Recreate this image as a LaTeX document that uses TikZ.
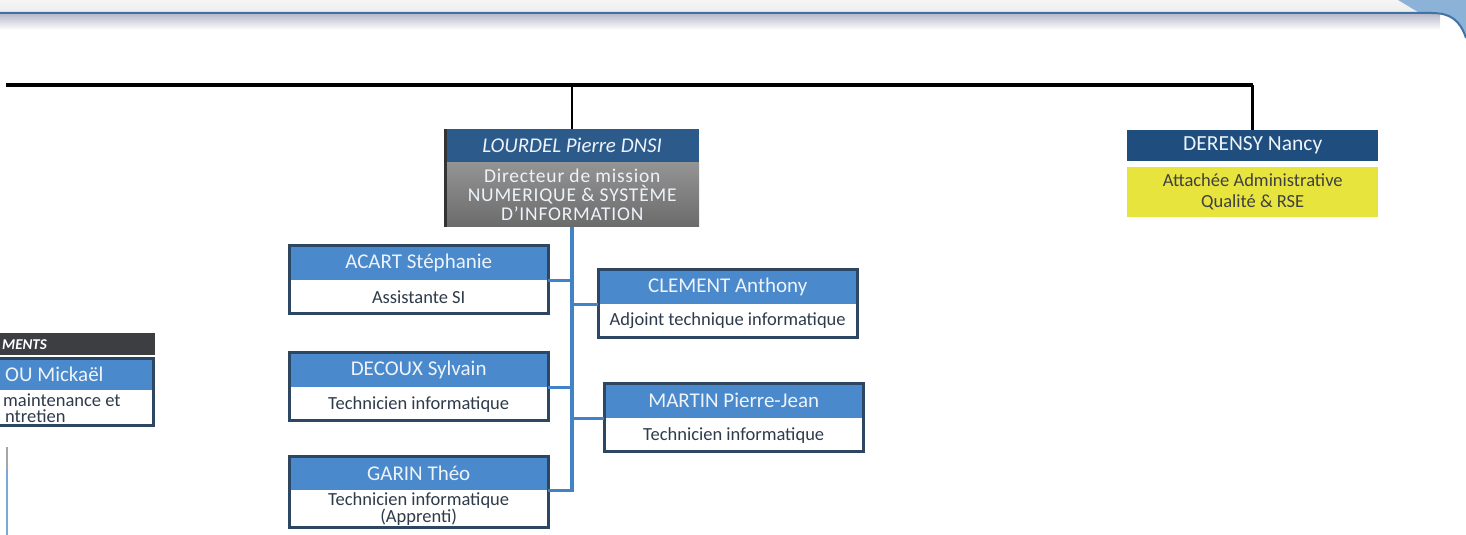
\documentclass[tikz,border=0pt]{standalone}
\usepackage{fontspec}
\setmainfont{Carlito}
\usetikzlibrary{positioning,calc}
\definecolor{hdrblue}{HTML}{4A89CC}
\definecolor{hdrtext}{HTML}{EEF3F9}
\definecolor{bodytext}{HTML}{2E3B4A}
\definecolor{framecol}{HTML}{2D4762}
\definecolor{trunkblue}{HTML}{4183C6}
\definecolor{chiefblue}{HTML}{2C5B8B}
\definecolor{navyblue}{HTML}{1F4E7E}
\definecolor{qualyellow}{HTML}{E8E43E}
\definecolor{darkcap}{HTML}{3C3E41}
\definecolor{cornerblue}{HTML}{8DB2D8}
\definecolor{bandline}{HTML}{3E73A6}

\begin{document}
\begin{tikzpicture}[x=1pt,y=-1pt]
\tikzset{hdr/.style={fill=hdrblue,text=hdrtext,minimum width=259pt,minimum height=35pt,inner sep=0pt,anchor=north west,font=\fontsize{21}{22}\selectfont},
body/.style={fill=white,text=bodytext,minimum width=259pt,minimum height=33pt,inner sep=0pt,align=center,font=\fontsize{18.5}{19}\selectfont},
frame/.style={draw=framecol,line width=3pt},
link/.style={draw=trunkblue,line width=3.5pt},
topline/.style={draw=black,line width=2.5pt}}
\useasboundingbox (0,0) rectangle (1466,535);
\clip (0,0) rectangle (1466,535);

% bandeau du haut
\fill[top color=white!92!gray,bottom color=white!86!gray] (0,0) rectangle (1466,12);
\fill[top color=white!88!blue!60!gray,bottom color=white] (0,14) rectangle (1440,30);
\fill[cornerblue] (1398,0) -- (1418,12) -- (1432,12) .. controls (1450,12) and (1460,20) .. (1466,38) -- (1466,0) -- cycle;
\draw[bandline,line width=2pt] (0,13) -- (1432,13) .. controls (1450,13) and (1460,20) .. (1466,38);

% direction
\node[hdr,fill=chiefblue,minimum width=254pt,minimum height=33pt,font=\fontsize{21}{22}\selectfont\itshape] (lourdel) at (445,129) {LOURDEL Pierre DNSI};
\node[body,below=0pt of lourdel,minimum width=254pt,minimum height=64pt,top color=black!42,bottom color=black!58,text=hdrtext,font=\fontsize{19.5}{19}\selectfont\addfontfeature{LetterSpace=4}] (lourdelb) {Directeur de mission\\NUMERIQUE \& SYSTÈME\\D'INFORMATION};
\draw[line width=3pt,black!80] (lourdel.north west) -- (lourdelb.south west);

\node[hdr,fill=navyblue,minimum width=251pt,minimum height=31pt,font=\fontsize{21.5}{22}\selectfont] (derensy) at (1127,130) {DERENSY Nancy};
\node[body,fill=qualyellow,text=black!75,minimum width=251pt,minimum height=50pt,anchor=north west,font=\fontsize{18.5}{21}\selectfont] (derensyb) at (1127,167) {Attachée Administrative\\Qualité \& RSE};

\coordinate (topleft) at (6,85);
\draw[topline,line width=3.5pt] (topleft) -- (topleft -| derensy.north);
\draw[topline] (derensy.north |- topleft) -- (derensy.north);
\draw[topline] (lourdel.north |- topleft) -- (lourdel.north);

% service SI
\node[hdr] (acart) at (289,245) {ACART Stéphanie};
\node[body,below=0pt of acart] (acartb) {Assistante SI};
\node[hdr] (clement) at (598,269) {CLEMENT Anthony};
\node[body,below=0pt of clement] (clementb) {Adjoint technique informatique};
\node[hdr] (decoux) at (289,352) {DECOUX Sylvain};
\node[body,below=0pt of decoux] (decouxb) {Technicien informatique};
\node[hdr] (martin) at (604,383) {MARTIN Pierre-Jean};
\node[body,below=0pt of martin] (martinb) {Technicien informatique};
\node[hdr,minimum height=34pt] (garin) at (289,456) {GARIN Théo};
\node[body,below=0pt of garin,minimum height=37pt,font=\fontsize{18.5}{17}\selectfont] (garinb) {Technicien informatique\\(Apprenti)};

\foreach \p in {acart,clement,decoux,martin,garin}
  \draw[frame] (\p.north west) rectangle (\p b.south east);

\draw[link] (lourdelb.south) |- (garinb.north east);
\draw[link] (acartb.north east) -- (acartb.north east -| lourdelb.south);
\draw[link] (decoux.south east) -- (decoux.south east -| lourdelb.south);
\draw[link] (clementb.north west) -- (clementb.north west -| lourdelb.south);
\draw[link] (martinb.north west) -- (martinb.north west -| lourdelb.south);

% bloc coupe a gauche
\node[fill=darkcap,text=white,minimum width=155pt,minimum height=22pt,inner sep=0pt,anchor=north west,font=\fontsize{15}{18}\selectfont\bfseries\itshape] (ments) at (0,333) {\makebox[155pt][l]{\hspace*{2pt}MENTS}};
\node[hdr,minimum width=153pt,minimum height=32pt] (mickael) at (0,358) {\makebox[153pt][l]{\hspace*{5pt}OU Mickaël}};
\node[body,below=0pt of mickael,minimum width=153pt,minimum height=35pt,align=left,font=\fontsize{18.5}{16}\selectfont] (mickaelb) {\makebox[153pt][l]{\hspace*{3pt}maintenance et}\\\makebox[153pt][l]{\hspace*{5pt}ntretien}};
\draw[frame] (mickael.north west) ++(-5,0) rectangle (mickaelb.south east);

\draw[black!35,line width=2pt] (7,447) -- (7,470);
\draw[trunkblue!70,line width=2pt] (7,470) -- (7,535);
\end{tikzpicture}
\end{document}
